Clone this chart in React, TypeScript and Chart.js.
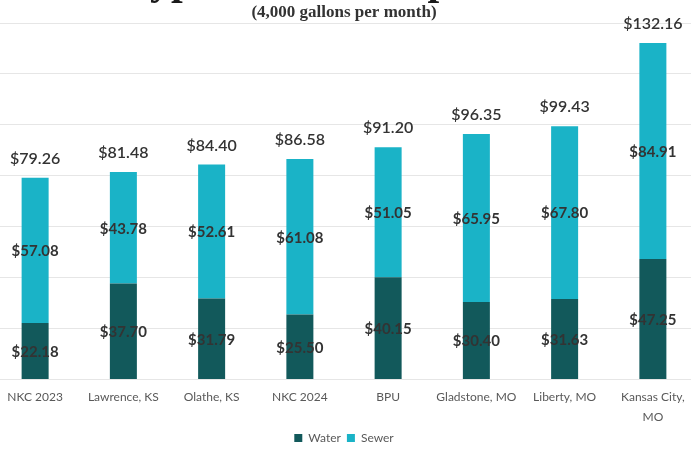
import React, { useEffect, useRef } from "react";
import { Chart, registerables } from "chart.js";

Chart.register(...registerables);

const categories: (string | string[])[] = [
  "NKC 2023",
  "Lawrence, KS",
  "Olathe, KS",
  "NKC 2024",
  "BPU",
  "Gladstone, MO",
  "Liberty, MO",
  ["Kansas City,", "MO"],
];
const waterValues = [22.18, 37.7, 31.79, 25.5, 40.15, 30.4, 31.63, 47.25];
const sewerValues = [57.08, 43.78, 52.61, 61.08, 51.05, 65.95, 67.8, 84.91];
const totalValues = [79.26, 81.48, 84.4, 86.58, 91.2, 96.35, 99.43, 132.16];
const yTicks = [0, 20, 40, 60, 80, 100, 120, 140];

const WATER = "#12595b";
const SEWER = "#1ab3c7";

const fmt = (v: number) => "$" + v.toFixed(2);

const labelPlugin = {
  id: "valueLabels",
  afterDatasetsDraw(chart: any) {
    const ctx = chart.ctx;
    ctx.save();
    ctx.textAlign = "center";
    ctx.textBaseline = "middle";
    chart.data.datasets.forEach((ds: any, di: number) => {
      const meta = chart.getDatasetMeta(di);
      meta.data.forEach((bar: any, i: number) => {
        const p = bar.getProps(["x", "y", "base"], true);
        ctx.font = "bold 15px Lato";
        ctx.fillStyle = "#333333";
        ctx.fillText(fmt(ds.data[i]), p.x, (p.y + p.base) / 2 + 1);
      });
    });
    const yScale = chart.scales.y;
    const lastMeta = chart.getDatasetMeta(chart.data.datasets.length - 1);
    lastMeta.data.forEach((bar: any, i: number) => {
      const p = bar.getProps(["x"], true);
      ctx.font = "600 16px Lato";
      ctx.fillStyle = "#333333";
      ctx.fillText(fmt(totalValues[i]), p.x, yScale.getPixelForValue(totalValues[i]) - 19);
    });
    ctx.restore();
  },
};

export default function App() {
  const ref = useRef<HTMLCanvasElement | null>(null);
  useEffect(() => {
    if (!ref.current) return;
    const chart = new Chart(ref.current, {
      type: "bar",
      data: {
        labels: categories as any,
        datasets: [
          {
            label: "Water",
            data: waterValues,
            backgroundColor: WATER,
            categoryPercentage: 1,
            barPercentage: 0.306,
          },
          {
            label: "Sewer",
            data: sewerValues,
            backgroundColor: SEWER,
            categoryPercentage: 1,
            barPercentage: 0.306,
          },
        ],
      },
      options: {
        responsive: false,
        animation: false,
        layout: { padding: { left: 0, right: 0, top: 0, bottom: 4 } },
        scales: {
          x: {
            stacked: true,
            grid: { display: false, drawTicks: false },
            border: { display: false },
            ticks: {
              padding: 8,
              color: "#595959",
              font: { family: "Lato", size: 12, lineHeight: 1.667 },
              maxRotation: 0,
              autoSkip: false,
            },
            afterFit: (scale: any) => {
              scale.height = 46.6;
            },
          },
          y: {
            stacked: true,
            min: 0,
            max: 140,
            afterBuildTicks: (scale: any) => {
              scale.ticks = yTicks.map((v) => ({ value: v }));
            },
            grid: { color: "#e6e6e6", drawTicks: false },
            border: { display: false },
            ticks: { display: false },
          },
        },
        plugins: {
          title: {
            display: true,
            text: "Typical Bill Comparison",
            color: "#1a1a1a",
            font: { family: "Liberation Serif", size: 42, weight: "bold", lineHeight: 1 },
            padding: 0,
          },
          subtitle: {
            display: true,
            text: "(4,000 gallons per month)",
            color: "#333333",
            font: { family: "Liberation Serif", size: 17, weight: "bold", lineHeight: 1 },
            padding: { top: 0, bottom: 2 },
          },
          legend: {
            position: "bottom",
            labels: {
              boxWidth: 8,
              boxHeight: 8,
              padding: 6,
              color: "#595959",
              font: { family: "Lato", size: 12 },
            },
          },
          tooltip: { enabled: false },
        },
      } as any,
      plugins: [labelPlugin],
    });
    return () => chart.destroy();
  }, []);

  return (
    <div
      style={{
        position: "fixed",
        left: 0,
        top: 0,
        width: 691,
        height: 452,
        overflow: "hidden",
        background: "#ffffff",
      }}
    >
      <div style={{ position: "absolute", left: -9, top: -38, width: 706, height: 496 }}>
        <canvas ref={ref} width={706} height={496} style={{ width: 706, height: 496 }} />
      </div>
    </div>
  );
}
